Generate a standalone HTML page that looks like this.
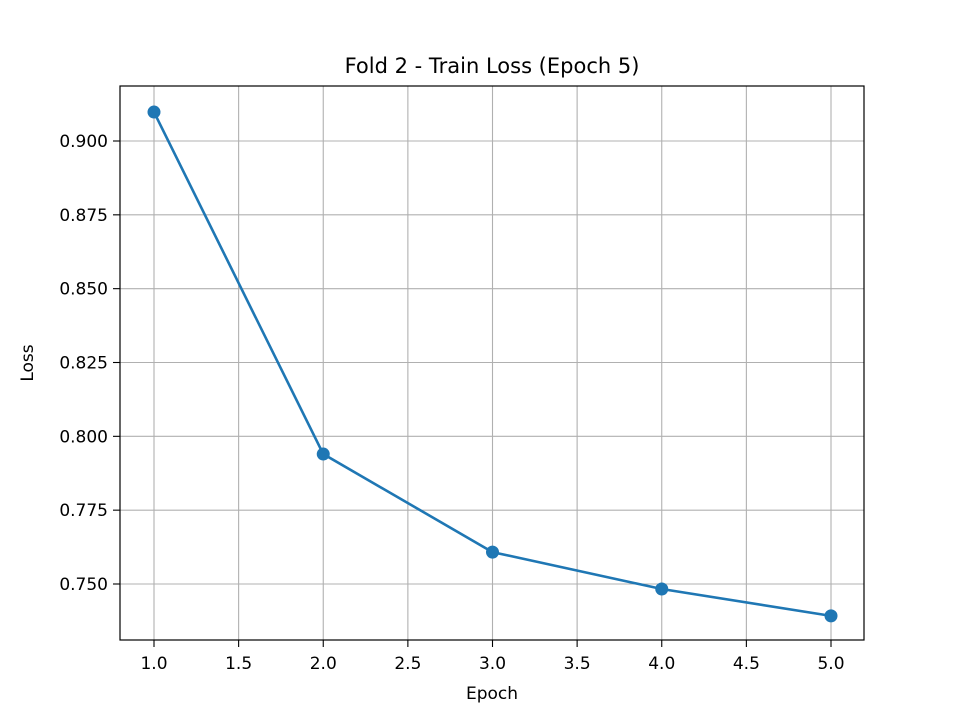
<!DOCTYPE html>
<html><head><meta charset="utf-8"><style>body{margin:0;background:#fff}svg{display:block;font-family:"DejaVu Sans","Liberation Sans",sans-serif}</style></head>
<body>
<svg id="chart" width="960" height="720" xmlns="http://www.w3.org/2000/svg">
<rect width="960" height="720" fill="#fff"/>
<g id="grid"></g><g id="ticks"></g><g id="series"></g>
<rect x="120" y="86" width="744" height="554" fill="none" stroke="#000" stroke-width="1.2"/>
<text x="492" y="73" text-anchor="middle" font-size="21">Fold 2 - Train Loss (Epoch 5)</text>
<text x="492" y="699" text-anchor="middle" font-size="17">Epoch</text>
<text transform="translate(33,363) rotate(-90)" text-anchor="middle" font-size="17">Loss</text>
</svg>
<script>
const epochs=[1,2,3,4,5];
const losses=[0.9098,0.7940,0.7608,0.7483,0.7392];
const xTicks=[1.0,1.5,2.0,2.5,3.0,3.5,4.0,4.5,5.0];
const yTicks=[0.750,0.775,0.800,0.825,0.850,0.875,0.900];
const X=v=>154+(v-1)*169.25;
const Y=v=>141-(v-0.9)*2953.3;
const ns="http://www.w3.org/2000/svg";
function mk(t,a,p){const e=document.createElementNS(ns,t);for(const k in a)e.setAttribute(k,a[k]);p.appendChild(e);return e;}
const g=document.getElementById('grid'),tk=document.getElementById('ticks'),s=document.getElementById('series');
xTicks.forEach(v=>{const x=X(v);
const l=mk('line',{x1:x,x2:x,y1:86,y2:640,stroke:'#b0b0b0','stroke-width':1.1},g);


mk('line',{x1:x,x2:x,y1:640,y2:647,stroke:'#000','stroke-width':1.1},tk);
const t=mk('text',{x:x,y:669,'text-anchor':'middle','font-size':17},tk);t.textContent=v.toFixed(1);

});
yTicks.forEach(v=>{const y=Y(v);
const l=mk('line',{x1:120,x2:864,y1:y,y2:y,stroke:'#b0b0b0','stroke-width':1.1},g);


mk('line',{x1:113,x2:120,y1:y,y2:y,stroke:'#000','stroke-width':1.1},tk);
const t=mk('text',{x:108,y:y+6,'text-anchor':'end','font-size':17},tk);t.textContent=v.toFixed(3);

});
const pl=mk('polyline',{points:epochs.map((e,i)=>X(e)+','+Y(losses[i])).join(' '),fill:'none',stroke:'#1f77b4','stroke-width':2.6},s);


epochs.forEach((e,i)=>{const c=mk('circle',{cx:X(e),cy:Y(losses[i]),r:6.5,fill:'#1f77b4'},s);

});
</script>
</body></html>
